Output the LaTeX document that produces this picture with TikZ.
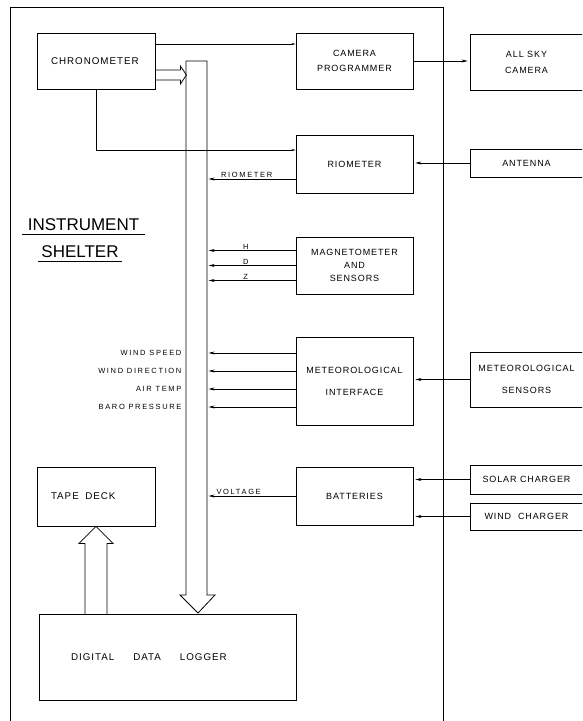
\documentclass[tikz,border=0pt]{standalone}
\usepackage{fontspec}
\usetikzlibrary{arrows.meta,positioning,calc}
\newfontfamily\lettering[LetterSpace=10]{Liberation Sans}
\newfontfamily\smallletter[LetterSpace=22]{Liberation Sans}
\newfontfamily\shelterfont{Liberation Sans}

\tikzset{
  block/.style={draw,line width=0.8pt,align=center,inner sep=2pt,
    font=\lettering\fontsize{9}{15}\selectfont},
  bigblock/.style={block,align=left,font=\lettering\fontsize{9.8}{12}\selectfont},
  sig/.style={line width=0.6pt,-{Stealth[length=6pt,width=3pt]},shorten >=2pt},
  lbl/.style={inner sep=1pt,font=\smallletter\fontsize{7.5}{8}\selectfont},
  hollow/.style={line width=0.8pt},
}

\begin{document}
\begin{tikzpicture}[x=1pt,y=-1pt]
  \useasboundingbox (0,0) rectangle (582,721);
  \clip (0,0) rectangle (582,721);

  % shelter outline
  \draw[line width=0.8pt] (10,721) -- (10,7) -- (443,7) -- (443,721);
  \node[inner xsep=6pt,inner ysep=3pt,font=\shelterfont\fontsize{17}{17}\selectfont] (inst) at (83.5,225) {INSTRUMENT};
  \draw[line width=0.8pt] (inst.south west) -- (inst.south east);
  \node[inner xsep=3pt,inner ysep=3pt,font=\shelterfont\fontsize{17}{17}\selectfont] (shelt) at (80,252) {SHELTER};
  \draw[line width=0.8pt] (shelt.south west) -- (shelt.south east);

  % left column
  \node[bigblock,text width=90,inner xsep=14,minimum height=56] (chron) at (96,61) {CHRONOMETER};
  \node[bigblock,text width=90,inner xsep=14,minimum height=59] (tape) at (96,496.5) {TAPE\ \ DECK};
  \node[bigblock,text width=193,inner xsep=32,minimum height=86] (logger) at (167.5,657)
    {DIGITAL\hspace{19pt}DATA\hspace{19pt}LOGGER};

  % middle column
  \node[block,minimum width=117,minimum height=56] (campr) at (354.5,61) {CAMERA\\PROGRAMMER};
  \node[block,minimum width=117,minimum height=58] (rio) at (354.5,164) {RIOMETER};
  \node[block,minimum width=117,minimum height=57,font=\lettering\fontsize{9}{13}\selectfont] (mag) at (354.5,265.5) {MAGNETOMETER\\AND\\SENSORS};
  \node[block,minimum width=117,minimum height=88,font=\lettering\fontsize{9}{22}\selectfont] (met) at (354.5,381) {METEOROLOGICAL\\INTERFACE};
  \node[block,minimum width=117,minimum height=58] (batt) at (354.5,496) {BATTERIES};

  % right column (outside)
  \node[block,minimum width=113,minimum height=56,font=\lettering\fontsize{9}{16}\selectfont] (sky) at (526.5,62) {ALL SKY\\CAMERA};
  \node[block,minimum width=113,minimum height=28] (ant) at (526.5,163) {ANTENNA};
  \node[block,minimum width=113,minimum height=55,font=\lettering\fontsize{9}{22}\selectfont] (msens) at (526.5,379.5) {METEOROLOGICAL\\SENSORS};
  \node[block,minimum width=113,minimum height=29] (solar) at (526.5,479.5) {SOLAR CHARGER};
  \node[block,minimum width=113,minimum height=27] (wind) at (526.5,516.5) {WIND\ \ CHARGER};

  % data bus
  \coordinate (bustl) at (186,61);
  \coordinate (bustr) at (207,61);
  \draw[hollow] (bustl) -- (186,595) -- (180,595) -- (198,613) coordinate (bustip)
    -- (215,595) -- (207,595) -- (bustr) -- cycle;

  % chronometer outputs
  \draw[hollow] (chron.east) ++(0,9) -- ++(25,0) -- ++(0,-4) -- ++(6,9) -- ++(-6,9) -- ++(0,-4) -- ++(-25,0);
  \draw[line width=0.6pt,-{Stealth[length=4pt,width=2pt]}] ([yshift=17pt]chron.east) -- ([yshift=17pt]campr.west);
  \draw[line width=0.6pt,-{Stealth[length=4pt,width=2pt]}] (chron.south) |- ([yshift=14pt]rio.west);

  % signals into the bus
  \draw[sig] ([yshift=-15pt]rio.west) -- ++(-89,0) node[lbl,above,pos=0.55] {RIOMETER};
  \foreach \dy/\txt in {15/H,0/D,-15/Z}
    \draw[sig] ([yshift=\dy pt]mag.west) -- ++(-89,0) node[lbl,above,pos=0.56] {\txt};
  \foreach \dy/\txt [count=\i] in {28/WIND SPEED,10/WIND DIRECTION,-8/AIR TEMP,-26/BARO PRESSURE} {
    \draw[sig] ([yshift=\dy pt]met.west) -- ++(-89,0) coordinate (m\i);
    \node[lbl,anchor=east] (mlab\i) at ([xshift=-24pt]m\i) {\txt};
  }
  \draw[sig] (batt.west) -- ++(-89,0) node[lbl,above,pos=0.64] {VOLTAGE};

  % outside links
  \draw[sig] (campr.east) -- (campr.east -| sky.west);
  \draw[sig] (ant.west) -- (ant.west -| rio.east);
  \draw[sig] (msens.west) -- (msens.west -| met.east);
  \draw[sig] (solar.west) -- (solar.west -| batt.east);
  \draw[sig] (wind.west) -- (wind.west -| batt.east);

  % logger to tape deck
  \draw[hollow] (tape.south) -- ++(17,17) -- ++(-6,0) -- ++(0,71) -- ++(-22,0) -- ++(0,-71) -- ++(-6,0) -- cycle;
\end{tikzpicture}
\end{document}
